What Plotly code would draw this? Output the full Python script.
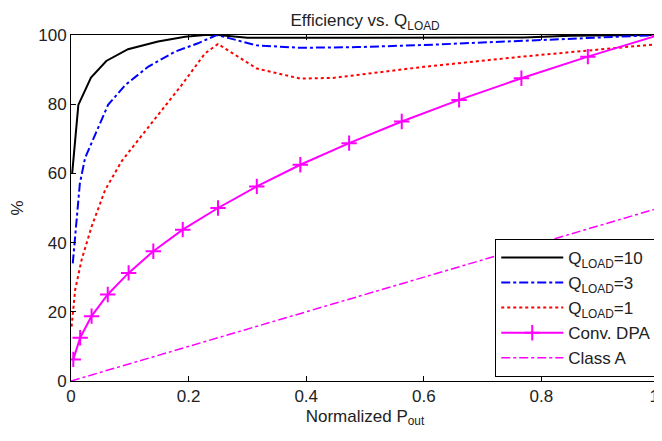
import plotly.graph_objects as go

# Q_LOAD = 10
x_q10 = [0.002, 0.003, 0.0125, 0.034, 0.06, 0.097, 0.148, 0.194, 0.228, 0.25, 0.3, 0.5, 0.77, 0.85, 1.0]
y_q10 = [60.0, 62.0, 79.8, 87.7, 92.5, 95.9, 98.1, 99.5, 100.0, 100.0, 99.2, 99.2, 99.3, 99.8, 100.0]

# Q_LOAD = 3
x_q3 = [0.003, 0.0097, 0.015, 0.024, 0.041, 0.063, 0.092, 0.131, 0.177, 0.216, 0.248, 0.28, 0.316, 0.39, 0.486, 0.6, 0.764, 0.877, 1.0]
y_q3 = [34.0, 47.5, 57.0, 64.5, 71.0, 79.8, 85.5, 90.8, 95.2, 97.6, 100.0, 98.5, 97.0, 96.3, 96.5, 97.1, 98.3, 99.2, 100.0]

# Q_LOAD = 1
x_q1 = [0.001, 0.007, 0.018, 0.035, 0.058, 0.086, 0.103, 0.148, 0.188, 0.228, 0.25, 0.316, 0.39, 0.446, 0.497, 0.6, 0.764, 1.0]
y_q1 = [15.7, 26.3, 35.0, 44.6, 55.2, 63.5, 67.2, 76.9, 85.5, 94.7, 97.4, 90.3, 87.4, 87.6, 88.6, 90.8, 93.7, 97.4]

# Conventional DPA
x_dpa = [0.0039, 0.0156, 0.035, 0.0625, 0.098, 0.14, 0.19, 0.25, 0.316, 0.39, 0.473, 0.5625, 0.66, 0.766, 0.879, 1.0]
y_dpa = [6.25, 12.5, 18.75, 25.0, 31.25, 37.5, 43.75, 50.0, 56.25, 62.5, 68.75, 75.0, 81.25, 87.5, 93.75, 100.0]

# Class A
x_cla = [0.0, 0.25, 0.5, 0.75, 1.0]
y_cla = [0.0, 12.5, 25.0, 37.5, 50.0]

x_ticks = [0, 0.2, 0.4, 0.6, 0.8, 1]
# last label padded with non-breaking spaces so it stays inside the page
x_tick_text = ["0", "0.2", "0.4", "0.6", "0.8", "1\u00a0\u00a0"]
y_ticks = [0, 20, 40, 60, 80, 100]

FONT = "Liberation Sans, Arial, sans-serif"
TXT = "#222222"

fig = go.Figure()
fig.add_trace(go.Scatter(x=x_q10, y=y_q10, mode="lines", name="Q<sub>LOAD</sub>=10",
                         line=dict(color="#000000", width=2)))
fig.add_trace(go.Scatter(x=x_q3, y=y_q3, mode="lines", name="Q<sub>LOAD</sub>=3",
                         line=dict(color="#0000FF", width=2, dash="dashdot")))
fig.add_trace(go.Scatter(x=x_q1, y=y_q1, mode="lines", name="Q<sub>LOAD</sub>=1",
                         line=dict(color="#FF0000", width=2, dash="dot")))
fig.add_trace(go.Scatter(x=x_dpa, y=y_dpa, mode="lines+markers", name="Conv. DPA",
                         line=dict(color="#FF00FF", width=2),
                         marker=dict(symbol="cross-thin", size=11, color="#FF00FF",
                                     line=dict(color="#FF00FF", width=2))))
fig.add_trace(go.Scatter(x=x_cla, y=y_cla, mode="lines", name="Class A",
                         line=dict(color="#FF00FF", width=1.5, dash="dashdot")))

# the page body adds an 8px offset, so the figure is 8px smaller than the window
fig.update_layout(
    width=654, height=433,
    margin=dict(l=63, r=3, t=27, b=60, autoexpand=False),
    paper_bgcolor="white", plot_bgcolor="white",
    font=dict(family=FONT, size=17, color=TXT),
    title=dict(text="Efficiency vs. Q<sub>LOAD</sub>", x=0.546, xanchor="center",
               y=1.0, yanchor="bottom", yref="paper", pad=dict(t=0, b=9),
               font=dict(family=FONT, size=17, color=TXT)),
    showlegend=True,
    legend=dict(x=0.997, y=0.012, xanchor="right", yanchor="bottom",
                bgcolor="white", bordercolor="#000000", borderwidth=1,
                font=dict(family=FONT, size=17, color=TXT),
                itemwidth=62, tracegroupgap=0),
)
fig.update_xaxes(range=[0, 1], tickvals=x_ticks, ticktext=x_tick_text,
                 showgrid=False, zeroline=False, showline=True, linecolor="#000000",
                 linewidth=1, mirror="ticks", ticks="inside", ticklen=5,
                 tickcolor="#000000", automargin=False, ticklabeloverflow="allow",
                 title=dict(text="Normalized P<sub>out</sub>", standoff=4,
                            font=dict(family=FONT, size=17, color=TXT)))
fig.update_yaxes(range=[0, 100], tickvals=y_ticks,
                 showgrid=False, zeroline=False, showline=True, linecolor="#000000",
                 linewidth=1, mirror="ticks", ticks="inside", ticklen=5,
                 tickcolor="#000000", automargin=False, ticklabeloverflow="allow",
                 title=dict(text="%", standoff=14,
                            font=dict(family=FONT, size=17, color=TXT)))

fig.write_html("out.html")
